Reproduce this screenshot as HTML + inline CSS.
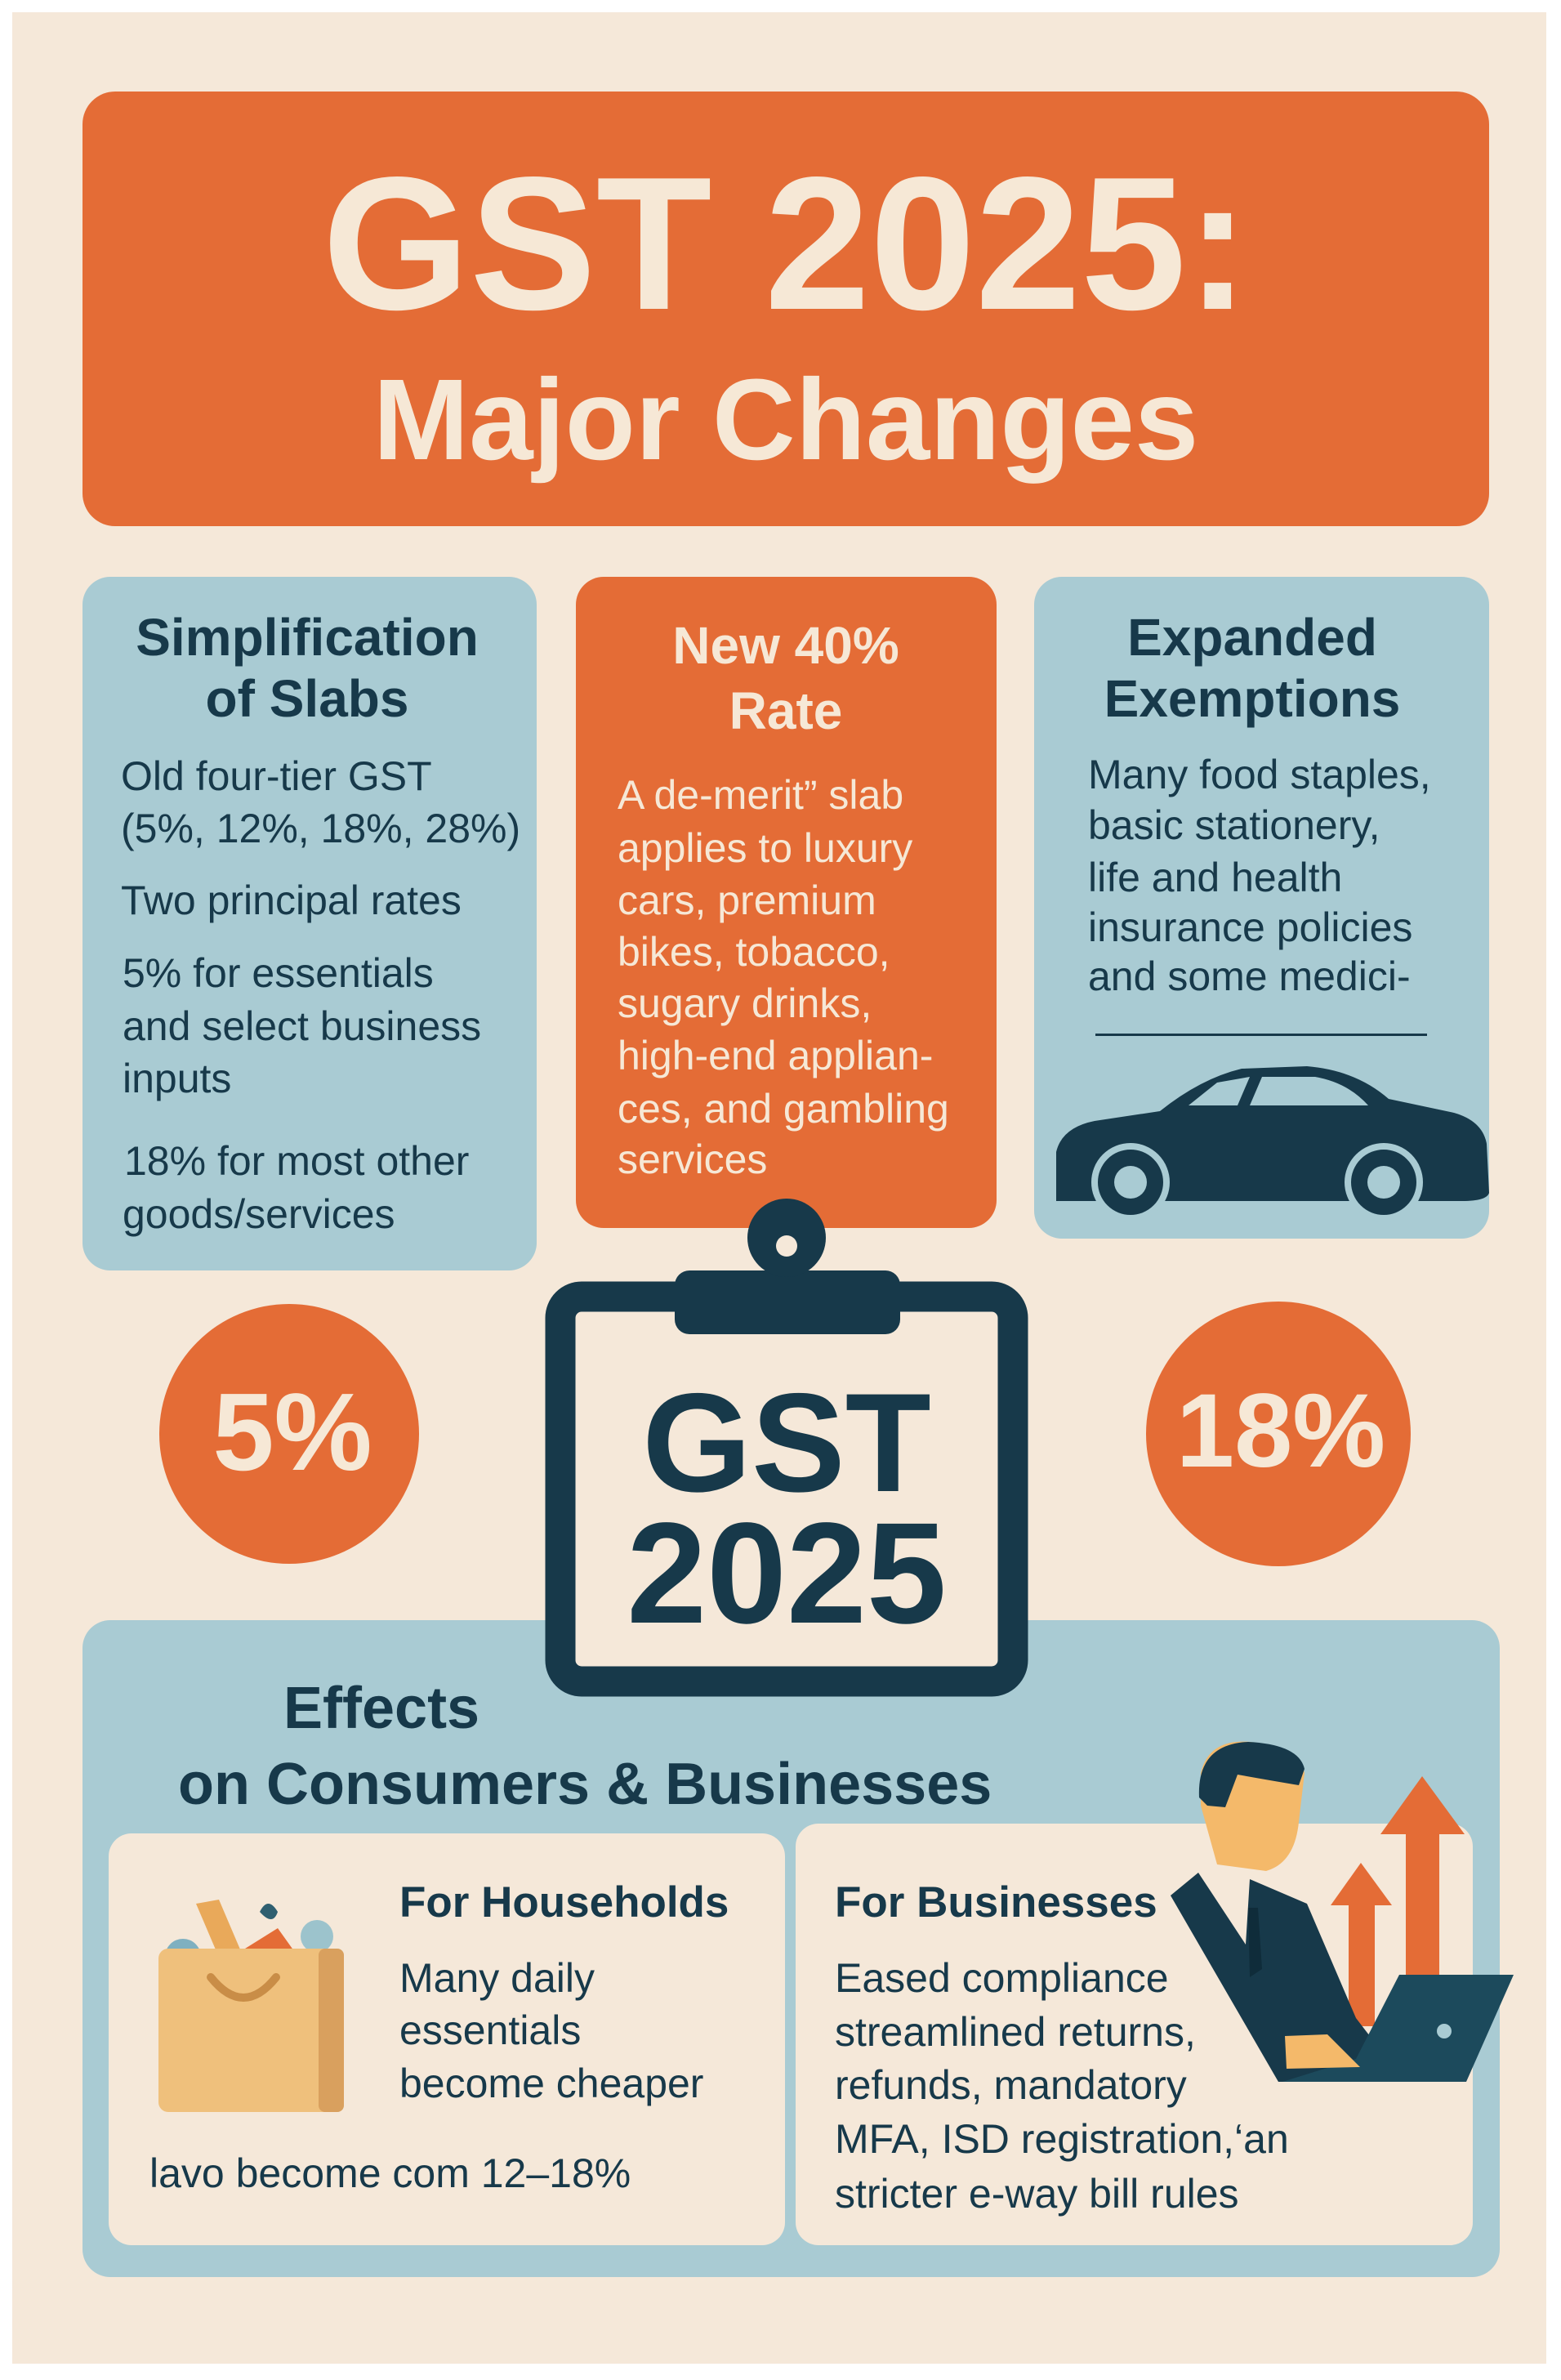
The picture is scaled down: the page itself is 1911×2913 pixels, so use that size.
<!DOCTYPE html>
<html><head><meta charset="utf-8"><style>
html,body{margin:0;padding:0}
body{width:1911px;height:2913px;background:#fff;position:relative;overflow:hidden;font-family:"Liberation Sans",sans-serif}
.bg{position:absolute;left:15px;top:15px;width:1878px;height:2878px;background:#f5e8d9}
.box{position:absolute;border-radius:34px}
.o{background:#e46c36}.b{background:#a9cbd3}.c{background:#f5e8d9}
.t{position:absolute;line-height:1;white-space:nowrap}
.n{color:#17394a}.w{color:#f6e8d6}
.bold{font-weight:bold}
.ctr{transform:translateX(-50%)}
</style></head><body>
<div class="bg"></div>
<div class="box o" style="left:101px;top:112px;width:1722px;height:532px;border-radius:40px"></div>
<div class="t w bold ctr" style="left:962px;top:183px;font-size:232px">GST 2025:</div>
<div class="t w bold ctr" style="left:962px;top:443px;font-size:141px">Major Changes</div>

<div class="box b" style="left:101px;top:706px;width:556px;height:849px"></div>
<div class="box o" style="left:705px;top:706px;width:515px;height:797px"></div>
<div class="box b" style="left:1266px;top:706px;width:557px;height:810px"></div>

<div class="t n bold ctr" style="left:376px;top:748px;font-size:64px">Simplification</div>
<div class="t n bold ctr" style="left:376px;top:823px;font-size:64px">of Slabs</div>
<div class="t n" style="left:148px;top:925px;font-size:50px">Old four-tier GST</div>
<div class="t n" style="left:148px;top:989px;font-size:50px">(5%, 12%, 18%, 28%)</div>
<div class="t n" style="left:148px;top:1077px;font-size:50px">Two principal rates</div>
<div class="t n" style="left:150px;top:1166px;font-size:50px">5% for essentials</div>
<div class="t n" style="left:150px;top:1231px;font-size:50px">and select business</div>
<div class="t n" style="left:150px;top:1295px;font-size:50px">inputs</div>
<div class="t n" style="left:152px;top:1396px;font-size:50px">18% for most other</div>
<div class="t n" style="left:150px;top:1461px;font-size:50px">goods/services</div>

<div class="t w bold ctr" style="left:962px;top:758px;font-size:64px">New 40%</div>
<div class="t w bold ctr" style="left:962px;top:838px;font-size:64px">Rate</div>
<div class="t w" style="left:756px;top:948px;font-size:50px">A de-merit” slab</div>
<div class="t w" style="left:756px;top:1013px;font-size:50px">applies to luxury</div>
<div class="t w" style="left:756px;top:1077px;font-size:50px">cars, premium</div>
<div class="t w" style="left:756px;top:1140px;font-size:50px">bikes, tobacco,</div>
<div class="t w" style="left:756px;top:1203px;font-size:50px">sugary drinks,</div>
<div class="t w" style="left:756px;top:1267px;font-size:50px">high-end applian-</div>
<div class="t w" style="left:756px;top:1332px;font-size:50px">ces, and gambling</div>
<div class="t w" style="left:756px;top:1394px;font-size:50px">services</div>

<div class="t n bold ctr" style="left:1533px;top:748px;font-size:64px">Expanded</div>
<div class="t n bold ctr" style="left:1533px;top:823px;font-size:64px">Exemptions</div>
<div class="t n" style="left:1332px;top:923px;font-size:50px">Many food staples,</div>
<div class="t n" style="left:1332px;top:985px;font-size:50px">basic stationery,</div>
<div class="t n" style="left:1332px;top:1049px;font-size:50px">life and health</div>
<div class="t n" style="left:1332px;top:1110px;font-size:50px">insurance policies</div>
<div class="t n" style="left:1332px;top:1170px;font-size:50px">and some medici-</div>
<div style="position:absolute;left:1341px;top:1265px;width:406px;height:3px;background:#17394a"></div>

<div class="box b" style="left:101px;top:1983px;width:1735px;height:804px"></div>
<div class="box c" style="left:133px;top:2244px;width:828px;height:504px;border-radius:28px"></div>
<div class="box c" style="left:974px;top:2232px;width:829px;height:516px;border-radius:28px"></div>

<svg width="1911" height="2913" style="position:absolute;left:0;top:0">
<!-- car -->
<path d="M1293,1470 L1293,1410 Q1300,1380 1340,1372 L1420,1360 Q1470,1320 1520,1308 L1600,1305 Q1660,1310 1700,1345 L1780,1362 Q1815,1372 1820,1400 L1823,1460 Q1820,1470 1790,1470 Z" fill="#17394a"/>
<path d="M1455,1353 L1490,1325 L1530,1318 L1515,1353 Z" fill="#a9cbd3"/>
<path d="M1530,1353 L1545,1318 L1610,1318 Q1650,1325 1675,1353 Z" fill="#a9cbd3"/>
<circle cx="1384" cy="1447" r="44" fill="#17394a" stroke="#a9cbd3" stroke-width="8"/>
<circle cx="1384" cy="1447" r="20" fill="#a9cbd3"/>
<circle cx="1694" cy="1447" r="44" fill="#17394a" stroke="#a9cbd3" stroke-width="8"/>
<circle cx="1694" cy="1447" r="20" fill="#a9cbd3"/>
<!-- circles -->
<circle cx="354" cy="1755" r="159" fill="#e46c36"/>
<circle cx="1565" cy="1755" r="162" fill="#e46c36"/>
<!-- clipboard -->
<rect x="686" y="1587" width="554" height="471" rx="26" fill="#f5e8d9" stroke="#17394a" stroke-width="37"/>
<rect x="826" y="1555" width="276" height="78" rx="18" fill="#17394a"/>
<circle cx="963" cy="1515" r="48" fill="#17394a"/>
<circle cx="963" cy="1525" r="13" fill="#f5e8d9"/>
<!-- bag -->
<path d="M240,2330 L268,2325 L300,2400 L272,2405 Z" fill="#e9a95a"/>
<circle cx="224" cy="2395" r="22" fill="#7fb0c0"/>
<path d="M300,2385 L340,2360 L365,2395 Z" fill="#e46c36"/>
<circle cx="388" cy="2370" r="20" fill="#9cc3cc"/>
<path d="M318,2340 q10,-20 22,0 q-6,18 -22,0z" fill="#2f5f70"/>
<rect x="194" y="2385" width="227" height="200" rx="12" fill="#efc07c"/>
<rect x="390" y="2385" width="31" height="200" rx="8" fill="#d9a05e"/>
<path d="M258,2420 q40,50 80,0" fill="none" stroke="#c98d47" stroke-width="10" stroke-linecap="round"/>
<!-- arrows -->
<path d="M1741,2174 L1793,2245 L1762,2245 L1762,2430 L1721,2430 L1721,2245 L1690,2245 Z" fill="#e46c36"/>
<path d="M1666,2280 L1704,2332 L1683,2332 L1683,2480 L1651,2480 L1651,2332 L1629,2332 Z" fill="#e46c36"/>
<!-- person -->
<path d="M1470,2170 Q1480,2128 1530,2132 Q1590,2138 1597,2170 L1590,2230 Q1585,2280 1550,2290 L1490,2282 L1470,2210 Z" fill="#f4b96a"/>
<path d="M1468,2200 Q1465,2135 1528,2132 Q1590,2135 1597,2165 L1590,2185 Q1560,2180 1515,2172 L1500,2212 L1478,2210 Z" fill="#17394a"/>
<path d="M1480,2290 L1550,2300 L1560,2420 L1520,2420 Z" fill="#f5e8d9"/>
<path d="M1433,2320 L1467,2292 L1525,2380 L1530,2300 L1600,2330 L1660,2470 L1720,2548 L1565,2548 Z" fill="#17394a"/>
<path d="M1528,2335 L1540,2335 L1545,2410 L1530,2420 Z" fill="#0f2c3a"/>
<path d="M1713,2417 L1853,2417 L1795,2548 L1570,2548 L1660,2520 Z" fill="#1c4a5c"/>
<circle cx="1768" cy="2486" r="9" fill="#a9cbd3"/>
<path d="M1573,2492 L1625,2490 L1665,2530 L1575,2532 Z" fill="#f4b96a"/>
</svg>

<div class="t w bold ctr" style="left:358px;top:1685px;font-size:135px">5%</div>
<div class="t w bold ctr" style="left:1568px;top:1688px;font-size:128px">18%</div>
<div class="t n bold ctr" style="left:963px;top:1680px;font-size:172px">GST</div>
<div class="t n bold ctr" style="left:963px;top:1838px;font-size:176px">2025</div>

<div class="t n bold" style="left:347px;top:2055px;font-size:72px">Effects</div>
<div class="t n bold" style="left:218px;top:2148px;font-size:72px">on Consumers &amp; Businesses</div>

<div class="t n bold" style="left:489px;top:2302px;font-size:53px">For Households</div>
<div class="t n" style="left:489px;top:2396px;font-size:50px">Many daily</div>
<div class="t n" style="left:489px;top:2460px;font-size:50px">essentials</div>
<div class="t n" style="left:489px;top:2525px;font-size:50px">become cheaper</div>
<div class="t n" style="left:183px;top:2635px;font-size:50px">lavo become com 12–18%</div>

<div class="t n bold" style="left:1022px;top:2302px;font-size:53px">For Businesses</div>
<div class="t n" style="left:1022px;top:2396px;font-size:50px">Eased compliance</div>
<div class="t n" style="left:1022px;top:2462px;font-size:50px">streamlined returns,</div>
<div class="t n" style="left:1022px;top:2527px;font-size:50px">refunds, mandatory</div>
<div class="t n" style="left:1022px;top:2593px;font-size:50px">MFA, ISD registration,‘an</div>
<div class="t n" style="left:1022px;top:2660px;font-size:50px">stricter e-way bill rules</div>
</body></html>
